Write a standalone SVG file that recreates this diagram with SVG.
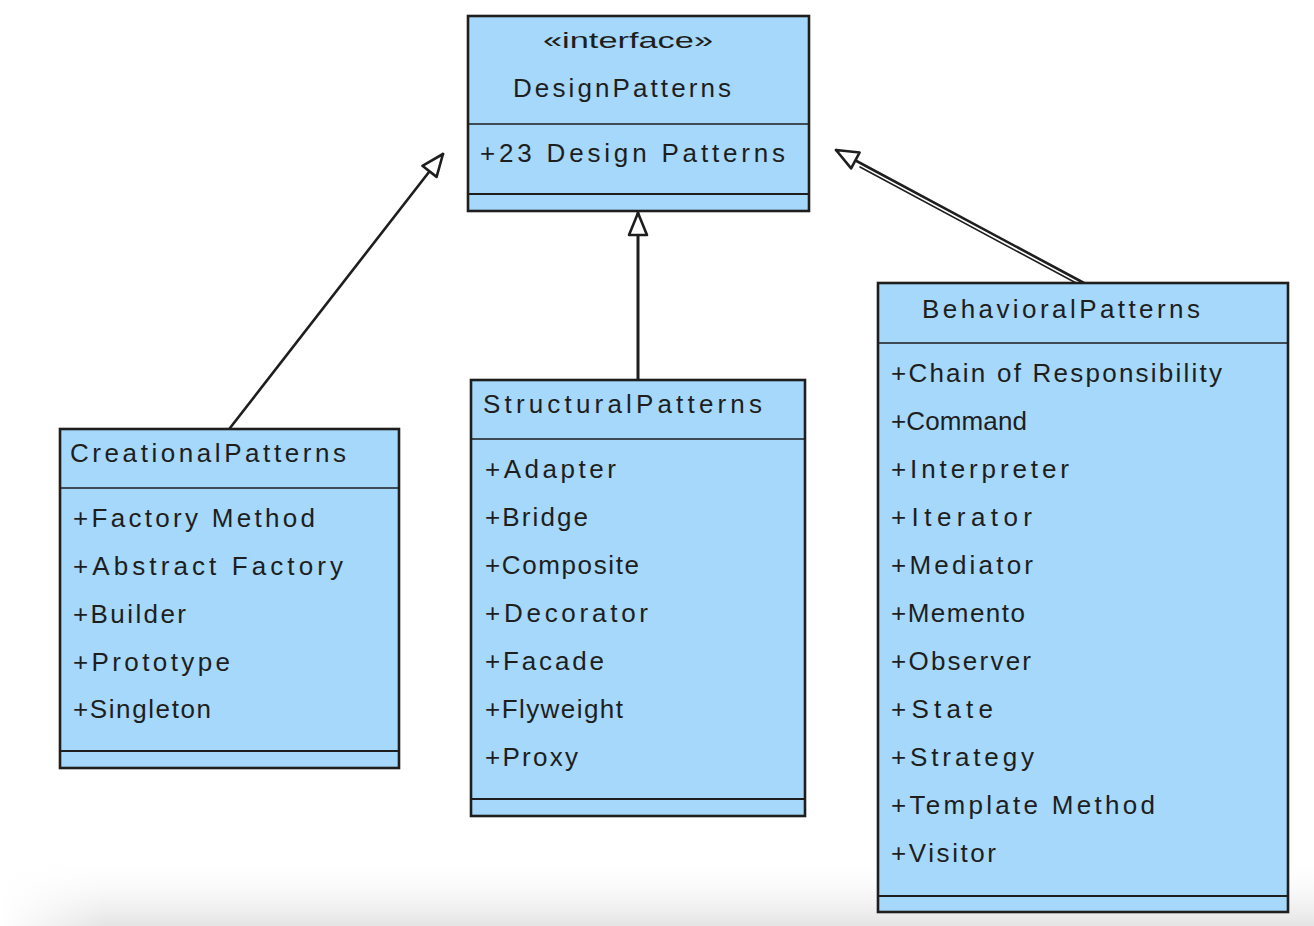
<svg xmlns="http://www.w3.org/2000/svg" width="1314" height="926" viewBox="0 0 1314 926">
  <style>
    .box { fill: #a5d8fa; stroke: #1e1e1e; stroke-width: 2.6; }
    .sep { stroke: #1e1e1e; stroke-width: 1.4; fill: none; }
    .sep2 { stroke: #1e1e1e; stroke-width: 2; fill: none; }
    .t { font-family: "Liberation Sans", "DejaVu Sans", sans-serif; font-size: 26px; fill: #1e1e1e; }
    .small { font-size: 22px; }
    .edge { stroke: #1e1e1e; stroke-width: 2.6; fill: none; stroke-linecap: round; }
  </style>
  <defs>
    <linearGradient id="shade" x1="0" y1="0" x2="0" y2="1">
      <stop offset="0" stop-color="#ffffff" stop-opacity="0"/>
      <stop offset="1" stop-color="#e4e4e4"/>
    </linearGradient>
    <linearGradient id="fadeL" x1="0" y1="0" x2="1" y2="0">
      <stop offset="0" stop-color="#ffffff"/>
      <stop offset="0.08" stop-color="#ffffff" stop-opacity="0"/>
    </linearGradient>
    <marker id="tri" viewBox="-2 -12 28 24" refX="22" refY="0" markerWidth="28" markerHeight="24" markerUnits="userSpaceOnUse" orient="auto">
      <path d="M 0 -9 L 22 0 L 0 9 Z" fill="#ffffff" stroke="#1e1e1e" stroke-width="2.6" stroke-linejoin="round"/>
    </marker>
  </defs>

  <rect x="0" y="0" width="1314" height="926" fill="#ffffff"/>
  <rect x="0" y="855" width="1314" height="71" fill="url(#shade)"/>
  <rect x="0" y="855" width="1314" height="71" fill="url(#fadeL)"/>

  <g id="connectors">
    <line class="edge" x1="230" y1="428" x2="443" y2="154" marker-end="url(#tri)"/>
    <line class="edge" x1="638" y1="379" x2="638" y2="213" marker-end="url(#tri)" style="stroke-width:3"/>
    <line class="edge" x1="1084" y1="283" x2="836" y2="150" marker-end="url(#tri)"/>
    <line class="edge" x1="1078" y1="284" x2="860" y2="167" style="stroke-width:1.6"/>
  </g>

  <g id="DesignPatterns">
    <rect class="box" x="468" y="16" width="341" height="195"/>
    <line class="sep" x1="468" y1="124" x2="809" y2="124"/>
    <line class="sep2" x1="468" y1="194" x2="809" y2="194"/>
    <text class="t small" x="543" y="48" textLength="170" lengthAdjust="spacingAndGlyphs">«interface»</text>
    <text class="t" x="513" y="97" textLength="218" lengthAdjust="spacing">DesignPatterns</text>
    <text class="t" x="480" y="162" textLength="305" lengthAdjust="spacing">+23 Design Patterns</text>
  </g>

  <g id="CreationalPatterns">
    <rect class="box" x="60" y="429" width="339" height="339"/>
    <line class="sep" x1="60" y1="488" x2="399" y2="488"/>
    <line class="sep2" x1="60" y1="751" x2="399" y2="751"/>
    <text class="t" x="70" y="462" textLength="276" lengthAdjust="spacing">CreationalPatterns</text>
    <text class="t" x="73" y="527" textLength="242" lengthAdjust="spacing">+Factory Method</text>
    <text class="t" x="73" y="575" textLength="270" lengthAdjust="spacing">+Abstract Factory</text>
    <text class="t" x="73" y="623" textLength="113" lengthAdjust="spacing">+Builder</text>
    <text class="t" x="73" y="671" textLength="157" lengthAdjust="spacing">+Prototype</text>
    <text class="t" x="73" y="718" textLength="138" lengthAdjust="spacing">+Singleton</text>
  </g>

  <g id="StructuralPatterns">
    <rect class="box" x="471" y="380" width="334" height="436"/>
    <line class="sep" x1="471" y1="439" x2="805" y2="439"/>
    <line class="sep2" x1="471" y1="799" x2="805" y2="799"/>
    <text class="t" x="483" y="413" textLength="279" lengthAdjust="spacing">StructuralPatterns</text>
    <text class="t" x="485" y="478" textLength="131" lengthAdjust="spacing">+Adapter</text>
    <text class="t" x="485" y="526" textLength="103" lengthAdjust="spacing">+Bridge</text>
    <text class="t" x="485" y="574" textLength="154" lengthAdjust="spacing">+Composite</text>
    <text class="t" x="485" y="622" textLength="163" lengthAdjust="spacing">+Decorator</text>
    <text class="t" x="485" y="670" textLength="119" lengthAdjust="spacing">+Facade</text>
    <text class="t" x="485" y="718" textLength="138" lengthAdjust="spacing">+Flyweight</text>
    <text class="t" x="485" y="766" textLength="93" lengthAdjust="spacing">+Proxy</text>
  </g>

  <g id="BehavioralPatterns">
    <rect class="box" x="878" y="283" width="410" height="629"/>
    <line class="sep" x1="878" y1="343" x2="1288" y2="343"/>
    <line class="sep2" x1="878" y1="896" x2="1288" y2="896"/>
    <text class="t" x="922" y="318" textLength="278" lengthAdjust="spacing">BehavioralPatterns</text>
    <text class="t" x="891" y="382" textLength="331" lengthAdjust="spacing">+Chain of Responsibility</text>
    <text class="t" x="891" y="430" textLength="136" lengthAdjust="spacing">+Command</text>
    <text class="t" x="891" y="478" textLength="178" lengthAdjust="spacing">+Interpreter</text>
    <text class="t" x="891" y="526" textLength="141" lengthAdjust="spacing">+Iterator</text>
    <text class="t" x="891" y="574" textLength="142" lengthAdjust="spacing">+Mediator</text>
    <text class="t" x="891" y="622" textLength="134" lengthAdjust="spacing">+Memento</text>
    <text class="t" x="891" y="670" textLength="140" lengthAdjust="spacing">+Observer</text>
    <text class="t" x="891" y="718" textLength="102" lengthAdjust="spacing">+State</text>
    <text class="t" x="891" y="766" textLength="143" lengthAdjust="spacing">+Strategy</text>
    <text class="t" x="891" y="814" textLength="264" lengthAdjust="spacing">+Template Method</text>
    <text class="t" x="891" y="862" textLength="105" lengthAdjust="spacing">+Visitor</text>
  </g>
</svg>
